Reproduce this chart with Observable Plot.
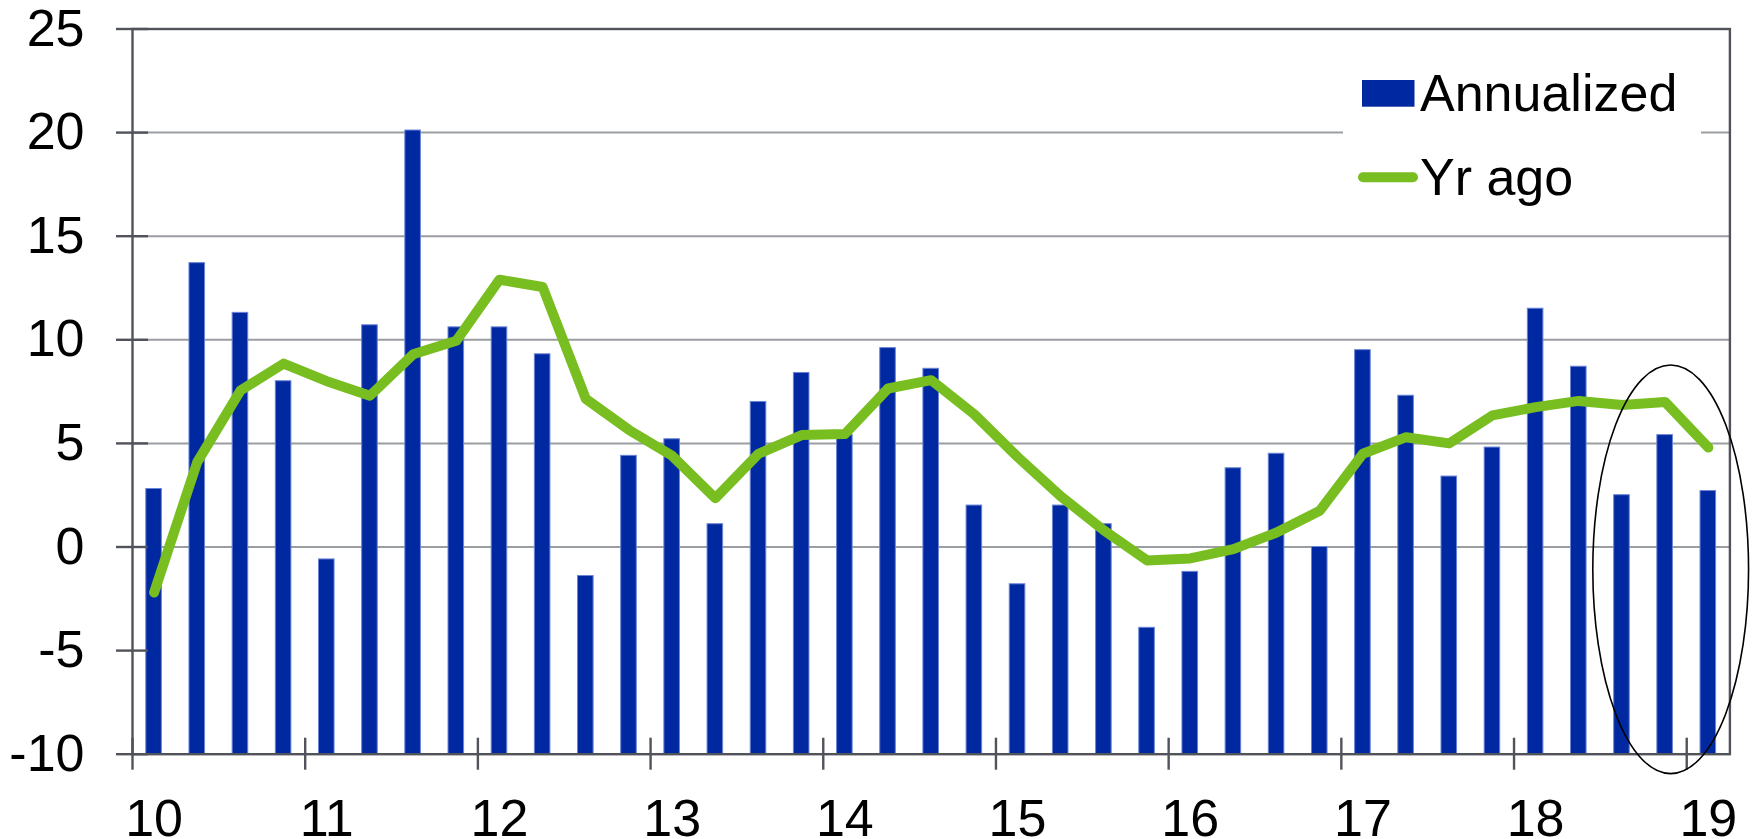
<!DOCTYPE html>
<html>
<head>
<meta charset="utf-8">
<script src="https://cdn.jsdelivr.net/npm/d3@7"></script>
<script src="https://cdn.jsdelivr.net/npm/@observablehq/plot@0.6"></script>
<style>
  html, body { margin: 0; padding: 0; background: #fff; }
  #chart svg { display: block; }
</style>
</head>
<body>
<div id="chart"></div>
<script>
// ---- Data ----
const periods = [
  "2010Q1","2010Q2","2010Q3","2010Q4",
  "2011Q1","2011Q2","2011Q3","2011Q4",
  "2012Q1","2012Q2","2012Q3","2012Q4",
  "2013Q1","2013Q2","2013Q3","2013Q4",
  "2014Q1","2014Q2","2014Q3","2014Q4",
  "2015Q1","2015Q2","2015Q3","2015Q4",
  "2016Q1","2016Q2","2016Q3","2016Q4",
  "2017Q1","2017Q2","2017Q3","2017Q4",
  "2018Q1","2018Q2","2018Q3","2018Q4",
  "2019Q1"
];
const annualized = [
  2.8, 13.7, 11.3, 8.0,
  -0.6, 10.7, 20.1, 10.6,
  10.6, 9.3, -1.4, 4.4,
  5.2, 1.1, 7.0, 8.4,
  5.4, 9.6, 8.6, 2.0,
  -1.8, 2.0, 1.1, -3.9,
  -1.2, 3.8, 4.5, 0.0,
  9.5, 7.3, 3.4, 4.8,
  11.5, 8.7, 2.5, 5.4,
  2.7
];
const yrAgo = [
  -2.2, 4.1, 7.55, 8.85,
  8.0, 7.3, 9.3, 9.95,
  12.9, 12.55, 7.15, 5.65,
  4.4, 2.35, 4.5, 5.4,
  5.45, 7.65, 8.05, 6.4,
  4.35, 2.45, 0.8, -0.65,
  -0.55, -0.1, 0.7, 1.75,
  4.5, 5.3, 5.0, 6.35,
  6.75, 7.05, 6.85, 7.0,
  4.8
];
const yearTicks = [2010, 2011, 2012, 2013, 2014, 2015, 2016, 2017, 2018, 2019];
const yearLabels = ["10", "11", "12", "13", "14", "15", "16", "17", "18", "19"];
const yTicks = [-10, -5, 0, 5, 10, 15, 20, 25];
const gridValues = [0, 5, 10, 15, 20];
const seriesNames = ["Annualized", "Yr ago"];
// annotation ellipse around the last three quarters (data units)
const highlight = {cx: 2018.91, cy: -1.1, rx: 0.451, ry: 9.86};

// ---- Table ----
const table = periods.map((p, i) => ({
  t: +p.slice(0, 4) + (+p.slice(5) - 1) / 4,
  annualized: annualized[i],
  yrAgo: yrAgo[i]
}));

const BAR = "#0028a0";
const GREEN = "#78be20";
const DARK = "#50545a";
const GRID = "#9a9da2";
const FONT = "'Liberation Sans', Arial, Helvetica, sans-serif";

const chart = Plot.plot({
  width: 1756,
  height: 839,
  marginLeft: 132,
  marginRight: 26.6,
  marginTop: 28.5,
  marginBottom: 85.3,
  style: {fontFamily: FONT, fontSize: "52px", background: "#fff", color: "#000"},
  x: {type: "linear", domain: [2010, 2019.25], axis: null},
  y: {type: "linear", domain: [-10, 25], axis: null},
  marks: [
    Plot.ruleY(gridValues, {y: d => d, stroke: GRID, strokeWidth: 2}),
    Plot.rect(table, {
      x1: "t", x2: d => d.t + 0.25, y1: -10, y2: "annualized",
      insetLeft: 13.8, insetRight: 13.8,
      fill: BAR, stroke: "#6b84d6", strokeWidth: 1
    }),
    Plot.line(table, {
      x: d => d.t + 0.125, y: "yrAgo",
      stroke: GREEN, strokeWidth: 10,
      strokeLinejoin: "round", strokeLinecap: "round"
    }),
    Plot.frame({stroke: DARK, strokeWidth: 2.4}),
    Plot.ruleY(yTicks, {y: d => d, x1: 2010, x2: 2010, insetLeft: -16, insetRight: -16, stroke: DARK, strokeWidth: 2.4}),
    Plot.ruleX(yearTicks, {x: d => d, y1: -10, y2: -10, insetTop: -16, insetBottom: -16, stroke: DARK, strokeWidth: 2.4}),
    Plot.text(yTicks, {
      y: d => d, frameAnchor: "left", text: d => String(d),
      textAnchor: "end", dx: -48, fontSize: 52, fill: "#000"
    }),
    Plot.text(yearTicks, {
      x: d => d + 0.125, frameAnchor: "bottom",
      text: (d, i) => yearLabels[i],
      lineAnchor: "bottom", dy: 81.3, fontSize: 52, fill: "#000"
    })
  ]
});

document.getElementById("chart").appendChild(chart);

// ---- Annotation ellipse (positioned through the chart's scales) ----
const sx = chart.scale("x"), sy = chart.scale("y");
const svg = d3.select(chart);
const ecx = sx.apply(highlight.cx), ecy = sy.apply(highlight.cy);
svg.append("ellipse")
  .attr("cx", ecx).attr("cy", ecy)
  .attr("rx", Math.abs(sx.apply(highlight.cx + highlight.rx) - ecx))
  .attr("ry", Math.abs(sy.apply(highlight.cy + highlight.ry) - ecy))
  .attr("fill", "none").attr("stroke", "#000").attr("stroke-width", 1.6);

// ---- Legend (inside the plot area, top right) ----
const lg = svg.append("g")
  .attr("font-family", FONT).attr("font-size", 52).attr("text-anchor", "start");
lg.append("rect").attr("x", 1343).attr("y", 45).attr("width", 358).attr("height", 177).attr("fill", "#fff");
lg.append("rect").attr("x", 1362).attr("y", 80).attr("width", 52.5).attr("height", 26.7).attr("fill", BAR);
lg.append("text").attr("x", 1420).attr("y", 110.7).attr("fill", "#000")
  .attr("text-anchor", "start").text(seriesNames[0]);
lg.append("line").attr("x1", 1363).attr("x2", 1413).attr("y1", 177.3).attr("y2", 177.3)
  .attr("stroke", GREEN).attr("stroke-width", 10).attr("stroke-linecap", "round");
lg.append("text").attr("x", 1420).attr("y", 195).attr("fill", "#000")
  .attr("text-anchor", "start").text(seriesNames[1]);
</script>
</body>
</html>
